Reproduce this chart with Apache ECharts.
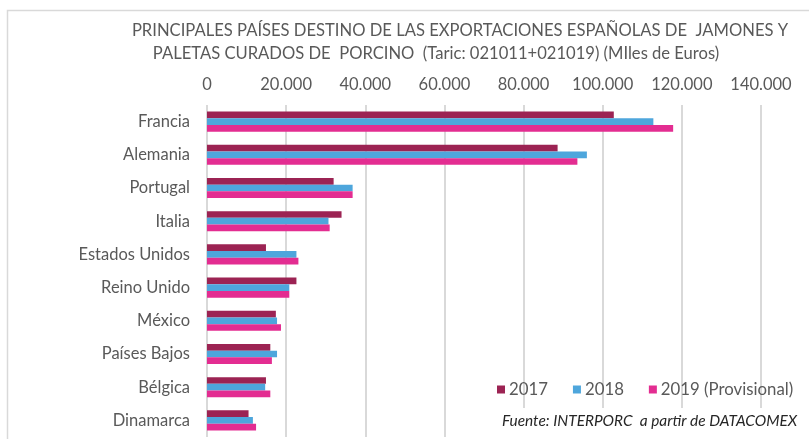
<!DOCTYPE html>
<html>
<head>
<meta charset="utf-8">
<script src="https://cdn.jsdelivr.net/npm/echarts@6/dist/echarts.min.js"></script>
<style>
  html, body { margin: 0; padding: 0; background: #fff; }
  #chart { width: 809px; height: 439px; }
</style>
</head>
<body>
<div id="chart"></div>
<script>
// Destination countries, top to bottom
const countries = ['Francia', 'Alemania', 'Portugal', 'Italia', 'Estados Unidos',
  'Reino Unido', 'México', 'Países Bajos', 'Bélgica', 'Dinamarca'];

// Export values, thousands of euros
const values2017 = [102800, 88600, 32000, 34000, 14900, 22600, 17400, 16000, 14900, 10500];
const values2018 = [112800, 96000, 36800, 30700, 22600, 20800, 17700, 17700, 14700, 11600];
const values2019 = [117800, 93600, 36800, 31000, 23100, 20800, 18700, 16400, 16000, 12400];

const seriesNames = ['2017', '2018', '2019 (Provisional)'];
const seriesColors = ['#9C2353', '#4EA6DC', '#E32D91'];

const titleLine1 = 'PRINCIPALES PAÍSES DESTINO DE LAS EXPORTACIONES ESPAÑOLAS DE  JAMONES Y';
const titleLine2 = 'PALETAS CURADOS DE  PORCINO  (Taric: 021011+021019) (MIles de Euros)';
const sourceNote = 'Fuente: INTERPORC  a partir de DATACOMEX';

const FONT = 'Lato';
const TEXT_GREY = '#595959';
const GRID_GREY = '#D9D9D9';

// Thousands separator as a dot
function fmt(v) {
  return String(v).replace(/\B(?=(\d{3})+(?!\d))/g, '.');
}

const chart = echarts.init(document.getElementById('chart'), null, { renderer: 'canvas' });

const seriesValues = [values2017, values2018, values2019];

chart.setOption({
  animation: false,
  backgroundColor: '#ffffff',
  title: [
    {
      text: titleLine1, left: 455, top: 17, textAlign: 'center',
      textStyle: { fontFamily: FONT, fontSize: 16.6, fontWeight: 'normal', color: TEXT_GREY }
    },
    {
      text: titleLine2, left: 431, top: 40, textAlign: 'center',
      textStyle: { fontFamily: FONT, fontSize: 16.6, fontWeight: 'normal', color: TEXT_GREY }
    }
  ],
  grid: { left: 207, right: 48, top: 105, bottom: 2, containLabel: false },
  xAxis: {
    type: 'value',
    position: 'top',
    min: 0,
    max: 140000,
    interval: 20000,
    axisLine: { show: false },
    axisTick: { show: false },
    axisLabel: {
      margin: 12,
      fontFamily: FONT, fontSize: 16.5, color: TEXT_GREY,
      formatter: fmt
    },
    splitLine: { show: true, lineStyle: { color: GRID_GREY, width: 2 } }
  },
  yAxis: {
    type: 'category',
    data: countries,
    inverse: true,
    axisLine: { show: false },
    axisTick: { show: false },
    axisLabel: {
      margin: 17,
      fontFamily: FONT, fontSize: 16.5, color: TEXT_GREY
    },
    splitLine: { show: false }
  },
  legend: {
    data: seriesNames,
    left: 492,
    top: 376,
    itemWidth: 8,
    itemHeight: 8,
    itemGap: 25,
    icon: 'rect',
    textStyle: { fontFamily: FONT, fontSize: 16.8, color: TEXT_GREY, padding: [0, 0, 0, -1] }
  },
  series: seriesNames.map((name, i) => ({
    name: name,
    type: 'bar',
    data: seriesValues[i],
    barWidth: 6.7,
    barGap: '0%',
    itemStyle: { color: seriesColors[i] },
    emphasis: { disabled: true }
  })),
  graphic: [
    // chart frame
    {
      type: 'rect', silent: true, z: -1,
      shape: { x: 7.5, y: 10.5, width: 900, height: 600 },
      style: { fill: 'none', stroke: GRID_GREY, lineWidth: 1.5 }
    },
    // source note box, masks the gridlines behind it
    {
      type: 'rect', silent: true, z: 10,
      shape: { x: 498, y: 408, width: 320, height: 40 },
      style: { fill: '#ffffff' }
    },
    {
      type: 'text', silent: true, z: 11,
      left: 502, top: 414,
      style: {
        text: sourceNote,
        font: 'italic 15.4px ' + FONT,
        fill: '#262626'
      }
    }
  ]
});
</script>
</body>
</html>
